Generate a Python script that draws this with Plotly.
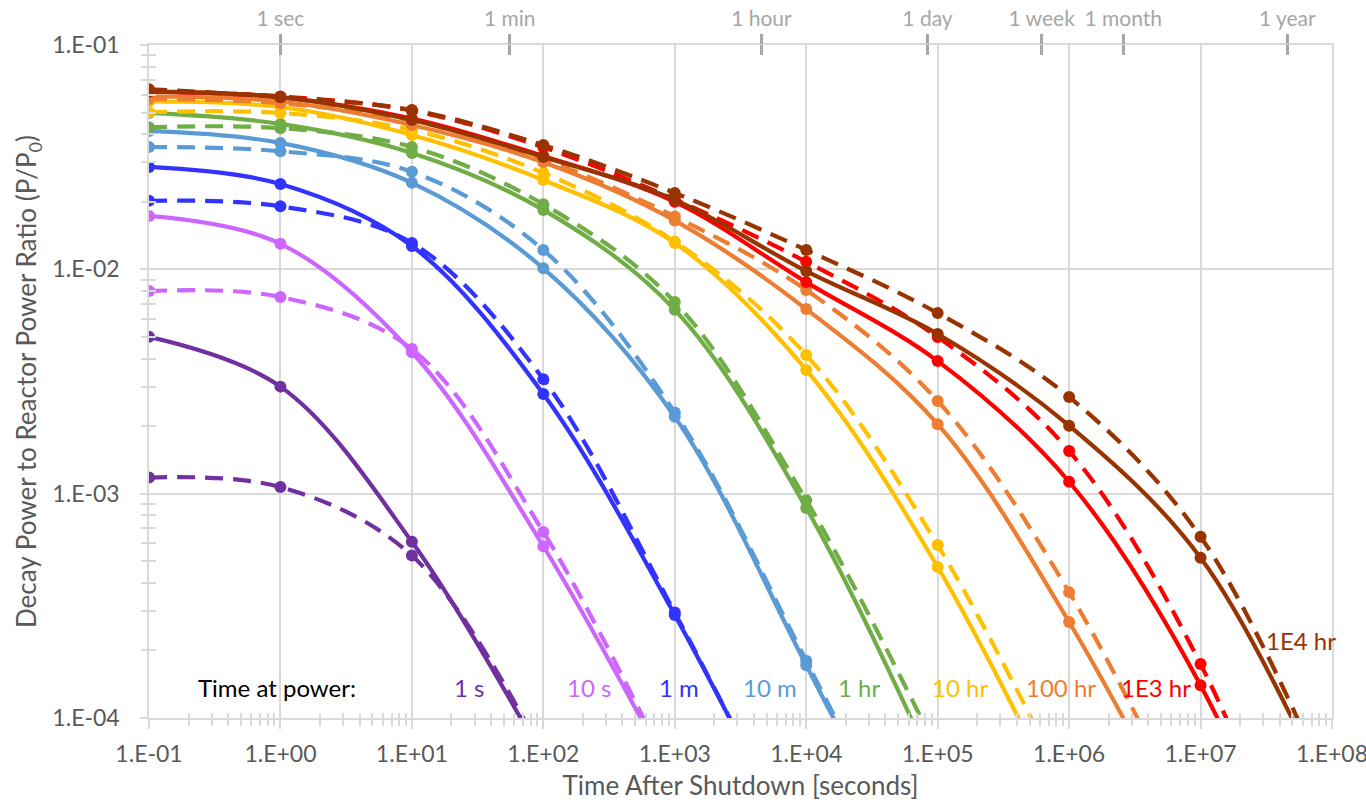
import plotly.graph_objects as go

# ---------------- data ----------------
time_after_shutdown_s = [0.1, 1, 10, 100, 1e3, 1e4, 1e5, 1e6, 1e7, 1e8]

series_names = ["1 s", "10 s", "1 m", "10 m", "1 hr", "10 hr", "100 hr", "1E3 hr", "1E4 hr"]

# solid curves
solid_1s = [5.0e-3, 3.0e-3, 6.1e-4, 6.6e-5]
solid_10s = [1.73e-2, 1.30e-2, 4.27e-3, 5.83e-4, 5.2e-5]
solid_1m = [2.86e-2, 2.40e-2, 1.27e-2, 2.78e-3, 2.88e-4, 2.1e-5]
solid_10m = [4.14e-2, 3.66e-2, 2.43e-2, 1.01e-2, 2.2e-3, 1.72e-4, 1.2e-5]
solid_1hr = [4.98e-2, 4.45e-2, 3.30e-2, 1.84e-2, 6.6e-3, 8.63e-4, 5.5e-5]
solid_10hr = [5.6e-2, 5.29e-2, 3.97e-2, 2.50e-2, 1.31e-2, 3.56e-3, 4.71e-4, 3.5e-5]
solid_100hr = [5.9e-2, 5.6e-2, 4.4e-2, 3.0e-2, 1.65e-2, 6.65e-3, 2.04e-3, 2.68e-4, 2.2e-5]
solid_1e3hr = [6.2e-2, 5.85e-2, 4.7e-2, 3.2e-2, 2.0e-2, 8.77e-3, 3.9e-3, 1.13e-3, 1.40e-4, 6.5e-6]
solid_1e4hr = [6.2e-2, 5.86e-2, 4.63e-2, 3.17e-2, 2.04e-2, 9.82e-3, 5.15e-3, 2.01e-3, 5.18e-4, 4.2e-5]

# dashed curves
dashed_1s = [1.18e-3, 1.07e-3, 5.3e-4, 6.8e-5]
dashed_10s = [8.0e-3, 7.53e-3, 4.41e-3, 6.75e-4, 5.2e-5]
dashed_1m = [2.02e-2, 1.91e-2, 1.31e-2, 3.24e-3, 2.95e-4, 2.1e-5]
dashed_10m = [3.51e-2, 3.36e-2, 2.72e-2, 1.22e-2, 2.3e-3, 1.8e-4, 1.2e-5]
dashed_1hr = [4.30e-2, 4.26e-2, 3.51e-2, 1.95e-2, 7.15e-3, 9.35e-4, 7.1e-5]
dashed_10hr = [5.02e-2, 4.98e-2, 4.18e-2, 2.69e-2, 1.33e-2, 4.15e-3, 5.9e-4, 4.6e-5]
dashed_100hr = [5.75e-2, 5.5e-2, 4.6e-2, 3.1e-2, 1.72e-2, 8.09e-3, 2.59e-3, 3.64e-4, 2.7e-5]
dashed_1e3hr = [6.2e-2, 5.9e-2, 5.1e-2, 3.5e-2, 2.05e-2, 1.08e-2, 4.99e-3, 1.55e-3, 1.74e-4, 6.6e-6]
dashed_1e4hr = [6.35e-2, 5.86e-2, 5.13e-2, 3.58e-2, 2.19e-2, 1.22e-2, 6.38e-3, 2.70e-3, 6.43e-4, 4.5e-5]

# axis tick labels
x_tick_values = [0.1, 1, 10, 100, 1e3, 1e4, 1e5, 1e6, 1e7, 1e8]
x_tick_labels = ["1.E-01", "1.E+00", "1.E+01", "1.E+02", "1.E+03", "1.E+04",
                 "1.E+05", "1.E+06", "1.E+07", "1.E+08"]
y_tick_values = [1e-4, 1e-3, 1e-2, 1e-1]
y_tick_labels = ["1.E-04", "1.E-03", "1.E-02", "1.E-01"]
top_tick_seconds = [1, 55.5, 4560, 8.37e4, 6.18e5, 2.58e6, 4.57e7]
top_tick_labels = ["1 sec", "1 min", "1 hour", "1 day", "1 week", "1 month", "1 year"]

# ---------------- styles ----------------
colors = ["#7030A0", "#CC66FF", "#3333FF", "#5B9BD5", "#70AD47",
          "#FFC000", "#ED7D31", "#FF0000", "#993300"]
FONT = "Lato, Carlito, Calibri, sans-serif"
GRID = "#D9D9D9"
TXT = "#595959"
TOPC = "#A6A6A6"

solids = [solid_1s, solid_10s, solid_1m, solid_10m, solid_1hr,
          solid_10hr, solid_100hr, solid_1e3hr, solid_1e4hr]
dasheds = [dashed_1s, dashed_10s, dashed_1m, dashed_10m, dashed_1hr,
           dashed_10hr, dashed_100hr, dashed_1e3hr, dashed_1e4hr]

fig = go.Figure()
for name, col, s_vals, d_vals in zip(series_names, colors, solids, dasheds):
    for vals, dash in ((s_vals, "solid"), (d_vals, "18px,10px")):
        fig.add_trace(go.Scatter(
            x=time_after_shutdown_s[:len(vals)], y=vals,
            mode="lines+markers", name=name, showlegend=False,
            line=dict(color=col, width=4.2, shape="spline", smoothing=1, dash=dash),
            marker=dict(size=12, color=col),
        ))

# invisible helper traces so that the overlay axes (top scale, inside tick halves) are drawn
for xa, ya in (("x2", "y"), ("x4", "y"), ("x3", "y3")):
    fig.add_trace(go.Scatter(
        x=[time_after_shutdown_s[0]], y=[solid_1s[0]], xaxis=xa, yaxis=ya,
        mode="markers", marker=dict(opacity=0, size=1), hoverinfo="skip",
        showlegend=False,
    ))

minor_x = [m * 10.0 ** e for e in range(-1, 8) for m in range(2, 10)]
minor_y = [m * 10.0 ** e for e in range(-4, -1) for m in range(2, 10)]

fig.update_layout(
    width=1366, height=804,
    margin=dict(l=149, r=34, t=45, b=86, autoexpand=False),
    paper_bgcolor="white", plot_bgcolor="white",
    font=dict(family=FONT, color=TXT, size=23),
    xaxis=dict(
        type="log", range=[-1, 8],
        tickvals=x_tick_values, ticktext=x_tick_labels,
        ticks="outside", ticklen=9, tickcolor=GRID, tickwidth=1.5,
        ticklabelstandoff=6, ticklabeloverflow="allow",
        showgrid=True, gridcolor=GRID, gridwidth=1.5,
        showline=True, linecolor=GRID, linewidth=1.5, mirror=True,
        minor=dict(tickvals=minor_x, ticks="outside", ticklen=6,
                   tickcolor=GRID, tickwidth=1.5, showgrid=False),
        tickfont=dict(size=23, color=TXT),
        title=dict(text="Time After Shutdown [seconds]", standoff=10,
                   font=dict(size=26, color=TXT)),
        zeroline=False, automargin=False,
    ),
    yaxis=dict(
        type="log", range=[-4, -1],
        tickvals=y_tick_values, ticktext=y_tick_labels,
        ticks="outside", ticklen=7, tickcolor=GRID, tickwidth=1.5,
        ticklabelstandoff=16, ticklabeloverflow="allow",
        showgrid=True, gridcolor=GRID, gridwidth=1.5,
        showline=True, linecolor=GRID, linewidth=1.5, mirror=True,
        minor=dict(tickvals=minor_y, ticks="outside", ticklen=6,
                   tickcolor=GRID, tickwidth=1.5, showgrid=False),
        tickfont=dict(size=23, color=TXT),
        title=dict(text="Decay Power to Reactor Power Ratio (P/P<sub>0</sub>)",
                   standoff=8, font=dict(size=26, color=TXT)),
        zeroline=False, automargin=False,
    ),
    # inside halves of the crossing tick marks
    xaxis3=dict(
        type="log", range=[-1, 8], overlaying="x", anchor="y3", side="bottom",
        tickvals=x_tick_values, ticks="inside", ticklen=5, tickcolor=GRID,
        tickwidth=1.5, showticklabels=False, showgrid=False, showline=False,
        zeroline=False,
        minor=dict(tickvals=minor_x, ticks="inside", ticklen=5,
                   tickcolor=GRID, tickwidth=1.5, showgrid=False),
    ),
    yaxis3=dict(
        type="log", range=[-4, -1], overlaying="y", anchor="x3", side="left",
        tickvals=y_tick_values, ticks="", showticklabels=False,
        showgrid=False, showline=False, zeroline=False,
        minor=dict(tickvals=minor_y, ticks="inside", ticklen=7,
                   tickcolor=GRID, tickwidth=1.5, showgrid=False),
    ),
    # top time-scale axis
    xaxis2=dict(
        type="log", range=[-1, 8], overlaying="x", anchor="y", side="top",
        tickvals=top_tick_seconds, ticktext=top_tick_labels,
        ticks="outside", ticklen=10, tickwidth=3, tickcolor=TOPC,
        ticklabelstandoff=0,
        tickfont=dict(size=21, color=TOPC),
        showgrid=False, showline=False, zeroline=False,
    ),
    xaxis4=dict(
        type="log", range=[-1, 8], overlaying="x", anchor="y", side="top",
        tickvals=top_tick_seconds, ticks="inside", ticklen=10, tickwidth=3,
        tickcolor=TOPC, showticklabels=False,
        showgrid=False, showline=False, zeroline=False,
    ),
)

# text labels for "Time at power"
label_texts = ["Time at power:"] + series_names
label_colors = ["#000000"] + colors
label_px = [277, 469, 589, 679, 770, 859, 960, 1061, 1156, 1301]
label_py = [687, 687, 687, 687, 687, 687, 687, 687, 687, 640]
for t, c, px, py in zip(label_texts, label_colors, label_px, label_py):
    fig.add_annotation(
        text=t, xref="paper", yref="paper",
        x=(px - 149) / 1183, y=(718 - py) / 673,
        xanchor="center", yanchor="middle", showarrow=False,
        font=dict(size=24, color=c, family=FONT),
    )

fig.write_html("out.html")
